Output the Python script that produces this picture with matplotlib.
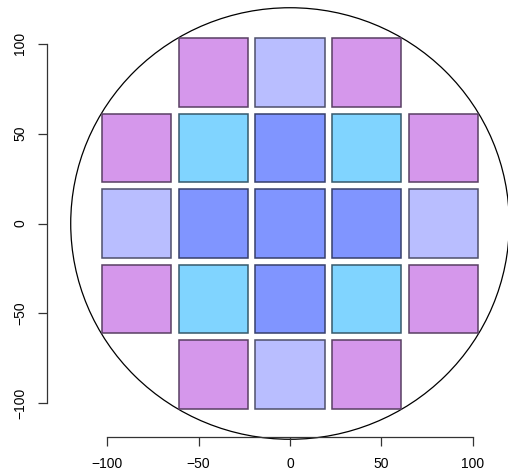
import numpy as np
import matplotlib.pyplot as plt
from matplotlib.patches import Rectangle, Circle
from matplotlib.colors import to_rgb

plt.rcParams['font.family'] = ['Liberation Sans', 'DejaVu Sans']

# die centres and their bin class
die_x = [-42, 0, 42,
         -84, -42, 0, 42, 84,
         -84, -42, 0, 42, 84,
         -84, -42, 0, 42, 84,
         -42, 0, 42]
die_y = [84, 84, 84,
         42, 42, 42, 42, 42,
         0, 0, 0, 0, 0,
         -42, -42, -42, -42, -42,
         -84, -84, -84]
die_bin = ['edge', 'mid', 'edge',
           'edge', 'ring', 'core', 'ring', 'edge',
           'mid', 'core', 'core', 'core', 'mid',
           'edge', 'ring', 'core', 'ring', 'edge',
           'edge', 'mid', 'edge']
bin_colors = {'edge': '#D597EB', 'mid': '#B9BEFF',
              'ring': '#80D4FF', 'core': '#8095FF'}
die_size = 38
wafer_radius = 120
ticks = [-100, -50, 0, 50, 100]

fig = plt.figure(figsize=(5.08, 4.72), dpi=100)
ax = fig.add_axes([0, 0, 1, 1])
ax.set_xlim(-158.7, 119.3)
ax.set_ylim(-138.2, 124.3)

ax.add_patch(Circle((0, 0), wafer_radius, fill=False, ec='black', lw=0.9, zorder=1))

for x, y, b in zip(die_x, die_y, die_bin):
    fc = to_rgb(bin_colors[b])
    ec = tuple(c * 0.42 for c in fc)
    ax.add_patch(Rectangle((x - die_size / 2, y - die_size / 2), die_size, die_size,
                           fc=fc, ec=ec, lw=1.1, zorder=2))

for s in ['top', 'right']:
    ax.spines[s].set_visible(False)
ax.spines['left'].set_position(('data', -132.9))
ax.spines['bottom'].set_position(('data', -118.7))
ax.spines['left'].set_bounds(-100, 100)
ax.spines['bottom'].set_bounds(-100, 100)
for s in ['left', 'bottom']:
    ax.spines[s].set_color('#333333')
    ax.spines[s].set_linewidth(0.9)

ax.set_xticks(ticks)
ax.set_yticks(ticks)
ax.set_xticklabels([str(t).replace('-', '\u2212') for t in ticks])
ax.set_yticklabels([str(t).replace('-', '\u2212') for t in ticks],
                   rotation=90, va='center')
ax.tick_params(direction='out', length=6.5, width=0.9, color='#333333',
               labelsize=10, pad=8)

fig.savefig('out.png', dpi=100)
